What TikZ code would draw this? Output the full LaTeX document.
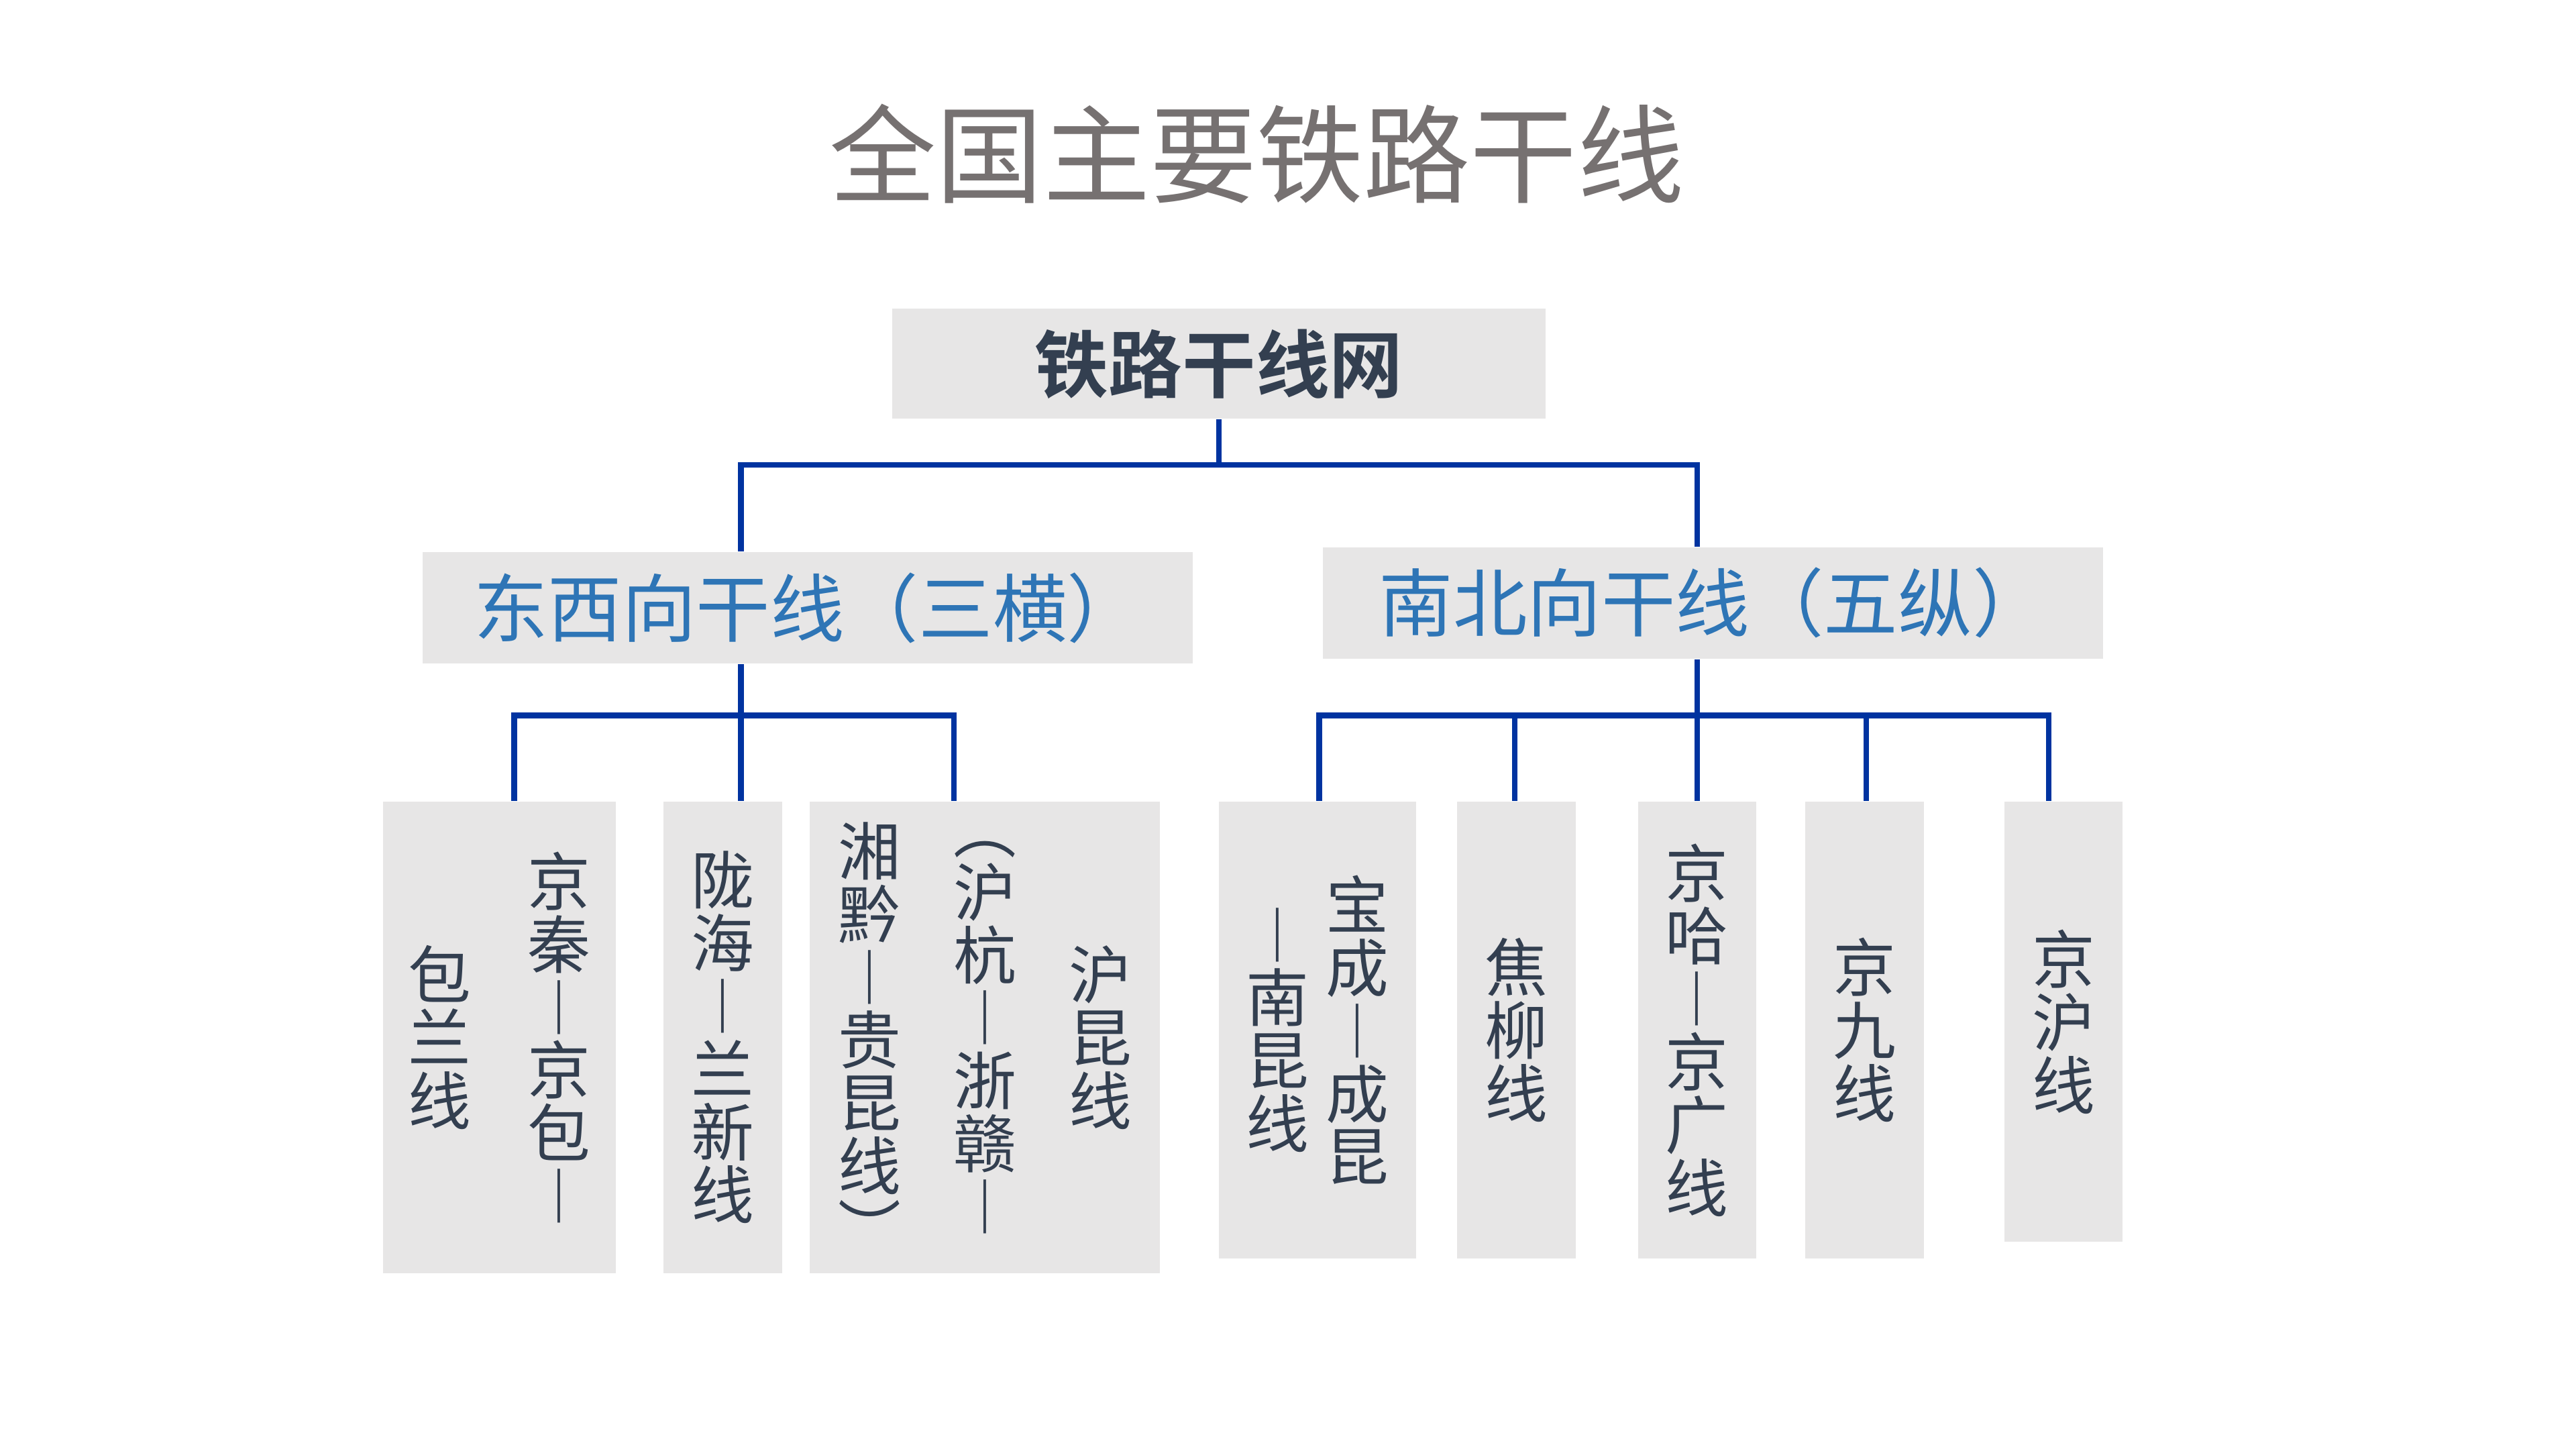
\documentclass[tikz,border=0pt]{standalone}
\usepackage{fontspec}
\newfontfamily\cjk{Noto Sans CJK SC}[BoldFont={Noto Sans CJK SC Bold}]
\usetikzlibrary{calc}

\definecolor{boxgray}{HTML}{E7E6E6}
\definecolor{railblue}{HTML}{0033A0}
\definecolor{titlegray}{HTML}{767171}
\definecolor{inkblue}{HTML}{2E75B6}
\definecolor{inknavy}{HTML}{333F50}

% one column of vertical text, one character per line
\makeatletter
\newcommand{\vcol}[1]{\parbox[c]{1em}{\centering\parskip=0pt\baselineskip=1em\lineskiplimit=-1em\lineskip=0pt\@vcolnext#1\relax}}
\def\@vcolnext#1{\ifx\relax#1\else#1\par\expandafter\@vcolnext\fi}
\makeatother

\begin{document}
\begin{tikzpicture}[x=0.02cm,y=-0.02cm] %% tikz nodes
	\tikzstyle{hub}=[rectangle,fill=boxgray,inner sep=0pt,minimum width=7.96cm,minimum height=1.34cm,text=inknavy,font={\cjk\bfseries\fontsize{25.5}{30}\selectfont}];
	\tikzstyle{group}=[rectangle,fill=boxgray,inner sep=0pt,minimum height=1.36cm,text=inkblue,font={\cjk\fontsize{25.7}{30}\selectfont}];
	\tikzstyle{track}=[rectangle,fill=boxgray,inner sep=0pt,minimum height=5.74cm,text=inknavy,font={\cjk\fontsize{21.8}{21.8}\selectfont}];
	\tikzstyle{rail}=[draw=railblue,line width=1.9pt];
	\useasboundingbox (0,0) rectangle (1568,882);

	\node[text=titlegray,font={\cjk\fontsize{37}{44}\selectfont}] (title) at (765,93.5) {全国主要铁路干线};

	\node[hub] (root) at (742,221.5) {铁路干线网};
	\node[group,minimum width=9.38cm] (ew) at (491.5,370) {东西向干线（三横）};
	\node[group,minimum width=9.5cm]  (ns) at (1042.5,367) {南北向干线（五纵）};

	\node[track,minimum width=2.84cm] (l1) at (304,631.5) {\vcol{包兰线}\hspace{0.69cm}\vcol{京秦︱京包︱}};
	\node[track,minimum width=1.44cm] (l2) at (440,631.5) {\vcol{陇海︱兰新线}};
	\node[track,minimum width=4.26cm] (l3) at (599.5,631.5) {\vcol{湘黔︱贵昆线︶}\hspace{0.64cm}\vcol{︵沪杭︱浙赣︱}\hspace{0.64cm}\vcol{沪昆线}};

	\node[track,minimum width=2.4cm,minimum height=5.56cm]  (r1) at (802,627) {\vcol{︱南昆线}\hspace{0.21cm}\vcol{宝成︱成昆}};
	\node[track,minimum width=1.44cm,minimum height=5.56cm] (r2) at (923,627) {\vcol{焦柳线}};
	\node[track,minimum width=1.44cm,minimum height=5.56cm] (r3) at (1033,627) {\vcol{京哈︱京广线}};
	\node[track,minimum width=1.44cm,minimum height=5.56cm] (r4) at (1135,627) {\vcol{京九线}};
	\node[track,minimum width=1.44cm,minimum height=5.36cm] (r5) at (1256,622) {\vcol{京沪线}};

	\coordinate (j0) at (742,283);
	\coordinate (j1) at (451,435.5);
	\coordinate (j2) at (1033,435.5);
	\draw[rail] (root.south) -- (j0);
	\draw[rail] (ew.north -| j1) |- (j0) -| (ns.north -| j2);
	\draw[rail] (ew.south -| j1) -- (j1);
	\draw[rail] (ns.south -| j2) -- (j2);
	\foreach \n/\d in {l1/9,l2/11,l3/-19}
		\draw[rail] (j1) -| ($(\n.north)+(\d,0)$);
	\foreach \n/\d in {r1/1,r2/-1,r3/0,r4/1,r5/-9}
		\draw[rail] (j2) -| ($(\n.north)+(\d,0)$);
\end{tikzpicture}
\end{document}
